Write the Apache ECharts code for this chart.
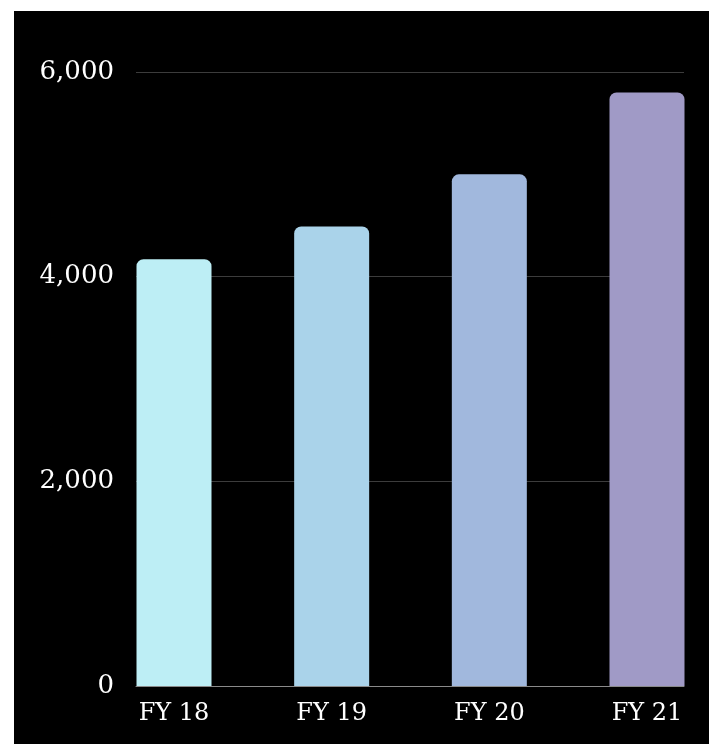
<!DOCTYPE html>
<html>
<head>
<meta charset="utf-8">
<script src="https://cdn.jsdelivr.net/npm/echarts@6/dist/echarts.min.js"></script>
<style>
  html, body { margin: 0; padding: 0; background: #ffffff; }
  #chart { position: absolute; left: 14px; top: 11px; width: 695px; height: 733px; background: #000000; }
</style>
</head>
<body>
<div id="chart"></div>
<script>
// Fiscal years and their totals
const categories = ['FY 18', 'FY 19', 'FY 20', 'FY 21'];
const values = [4170, 4490, 5000, 5800];
const barColors = ['#bdeef5', '#aad3ea', '#a1b8dd', '#a09ac6'];
const yTicks = { min: 0, max: 6000, interval: 2000 };

const fontFamily = '"DejaVu Serif", serif';
const chart = echarts.init(document.getElementById('chart'), null, { renderer: 'canvas' });

chart.setOption({
  backgroundColor: '#000000',
  animation: false,
  grid: [
    // frame: value axis, gridlines and baseline
    { left: 122, right: 25, top: 61, bottom: 58 },
    // bars: first and last bars sit flush with the frame edges
    { left: 160, right: 62, top: 61, bottom: 58 }
  ],
  xAxis: [
    {
      gridIndex: 0, type: 'value', min: 0, max: 1,
      axisLine: { show: true, onZero: false, lineStyle: { color: '#8a8a8a', width: 1 } },
      axisTick: { show: false }, axisLabel: { show: false }, splitLine: { show: false }
    },
    {
      gridIndex: 1, type: 'category', data: categories, boundaryGap: false,
      axisLine: { show: false }, axisTick: { show: false }, splitLine: { show: false },
      axisLabel: { color: '#ffffff', fontFamily: fontFamily, fontSize: 24, margin: 16 }
    }
  ],
  yAxis: [
    {
      gridIndex: 0, type: 'value', min: yTicks.min, max: yTicks.max, interval: yTicks.interval,
      axisLine: { show: false }, axisTick: { show: false },
      axisLabel: {
        color: '#ffffff', fontFamily: fontFamily, fontSize: 26, margin: 22,
        formatter: v => v.toLocaleString('en-US')
      },
      splitLine: { show: true, lineStyle: { color: '#3c3c3c', width: 1 } }
    },
    {
      gridIndex: 1, type: 'value', min: yTicks.min, max: yTicks.max, interval: yTicks.interval,
      show: false, splitLine: { show: false }
    }
  ],
  series: [{
    type: 'bar',
    xAxisIndex: 1, yAxisIndex: 1,
    clip: false,
    barWidth: 75,
    data: values.map((v, i) => ({
      value: v,
      itemStyle: { color: barColors[i], borderRadius: [7, 7, 0, 0] }
    }))
  }]
});
</script>
</body>
</html>
